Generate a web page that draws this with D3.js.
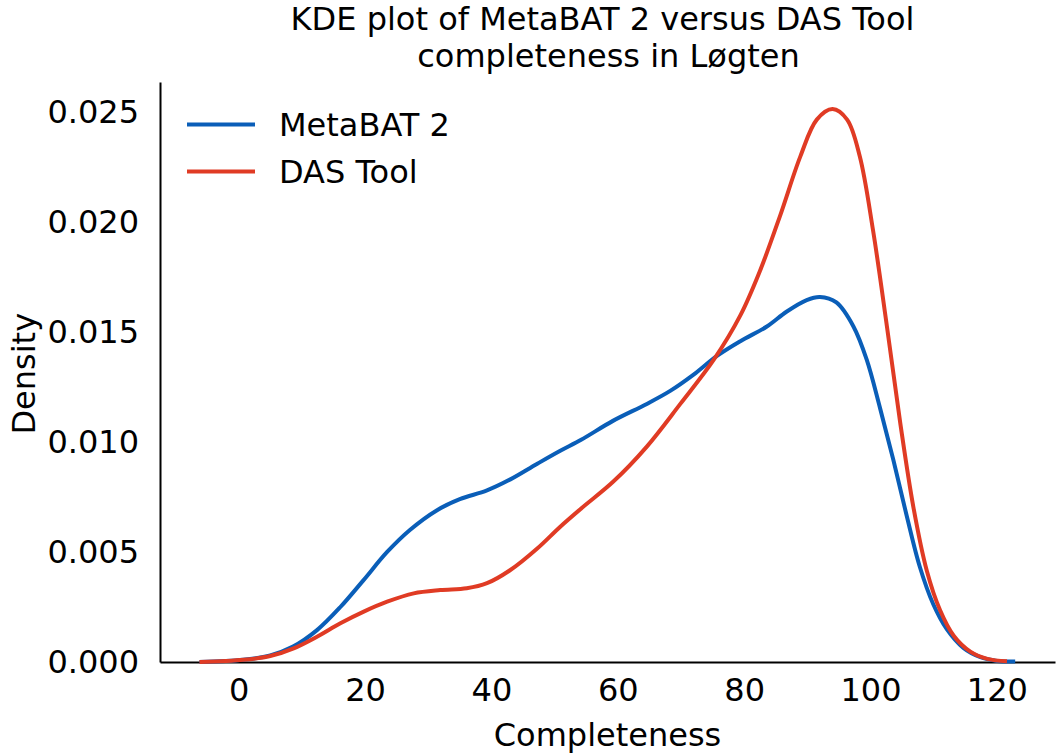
<!DOCTYPE html>
<html>
<head>
<meta charset="utf-8">
<script src="https://cdn.jsdelivr.net/npm/d3@7"></script>
<style>
  body { margin: 0; background: #fff; }
  text { font-family: "DejaVu Sans", sans-serif; fill: #000; }
</style>
</head>
<body>
<div id="chart"></div>
<script>
// KDE curves
var seriesNames = ["MetaBAT 2", "DAS Tool"];
var seriesColors = ["#0a5eb8", "#e03b24"];

var metabatX = [-6.2, 0.7, 5.0, 8.6, 12.4, 16.1, 19.7, 23.5, 27.1, 31.4, 35.0, 39.3, 43.0, 47.2, 50.9, 54.2,
                59.3, 64.6, 68.3, 72.0, 75.7, 79.4, 83.6, 86.7, 89.9, 92.0, 94.6, 97.3, 99.4, 101.5, 103.6,
                105.7, 107.8, 109.9, 112.1, 114.7, 117.3, 120.0, 122.9];
var metabatY = [0.0, 0.0001, 0.0003, 0.0007, 0.00145, 0.0025, 0.0037, 0.0050, 0.0060, 0.0069, 0.0074, 0.0078, 0.0083, 0.0090, 0.0096, 0.0101,
                0.01097, 0.01173, 0.01232, 0.01306, 0.01391, 0.01458, 0.01525, 0.01592, 0.01645, 0.01659, 0.01634, 0.01525, 0.01374, 0.01155, 0.0092,
                0.00668, 0.00433, 0.00265, 0.00148, 0.00064, 0.00023, 0.00005, 0.00002];

var dasX = [-6.2, 0.8, 5.0, 8.7, 12.4, 16.1, 19.8, 23.5, 27.7, 31.9, 36.1, 39.3, 43.0, 47.3, 50.9, 54.3,
            59.3, 64.6, 69.9, 75.2, 79.4, 82.5, 85.7, 88.9, 91.5, 94.0, 96.3, 98.3, 100.4, 102.6, 104.7,
            106.8, 108.9, 111.0, 113.2, 115.8, 118.5, 121.6];
var dasY = [0.0, 0.0001, 0.00027, 0.00062, 0.00115, 0.00176, 0.00229, 0.00274, 0.00312, 0.00327, 0.00335, 0.00358, 0.00418, 0.00517, 0.00615, 0.007,
            0.0082, 0.00979, 0.01173, 0.01374, 0.01575, 0.01777, 0.02029, 0.02298, 0.02465, 0.02513, 0.02465, 0.02298, 0.01962, 0.01525, 0.01088,
            0.00702, 0.00416, 0.00236, 0.00118, 0.00047, 0.00014, 0.00003];

var xTicks = [0, 20, 40, 60, 80, 100, 120];
var yTicks = [0.000, 0.005, 0.010, 0.015, 0.020, 0.025];

var width = 1056, height = 755;
var margin = {top: 82, right: 1, bottom: 93, left: 160};
var fontSize = 32;

var svg = d3.select("#chart")
            .append("svg")
            .attr("width", width)
            .attr("height", height);

var x = d3.scaleLinear()
          .domain([-12.45, 129.2])
          .range([margin.left, width - margin.right]);

var y = d3.scaleLinear()
          .domain([0, 0.02636])
          .range([height - margin.bottom, margin.top]);

//axes, only left and bottom spines, no tick marks
var xAxis = svg.append("g")
               .attr("transform", "translate(0," + (height - margin.bottom) + ")")
               .call(d3.axisBottom(x).tickValues(xTicks).tickSize(0).tickPadding(16).tickFormat(d3.format("d")));

var yAxis = svg.append("g")
               .attr("transform", "translate(" + margin.left + ",0)")
               .call(d3.axisLeft(y).tickValues(yTicks).tickSize(0).tickPadding(21).tickFormat(d3.format(".3f")));

svg.selectAll(".domain")
   .attr("stroke", "#000")
   .attr("stroke-width", 2);

svg.selectAll(".tick text")
   .style("font-family", "DejaVu Sans")
   .style("font-size", fontSize + "px")
   .attr("fill", "#000");

//kde lines
var line = d3.line()
             .x(function(d){ return x(d[0]); })
             .y(function(d){ return y(d[1]); })
             .curve(d3.curveCatmullRom.alpha(0.5));

var curves = [d3.zip(metabatX, metabatY), d3.zip(dasX, dasY)];

svg.selectAll(".kde")
   .data(curves)
   .enter()
   .append("path")
   .attr("class", "kde")
   .attr("d", line)
   .attr("fill", "none")
   .attr("stroke", function(d, i){ return seriesColors[i]; })
   .attr("stroke-width", 4)
   .attr("stroke-linejoin", "round");

//title (first line sits a bit left, as in the original)
var cx = (margin.left + width - margin.right) / 2;
var title = svg.append("text")
               .attr("text-anchor", "middle")
               .style("font-size", fontSize + "px");
title.append("tspan").attr("x", cx - 5).attr("y", 30).text("KDE plot of MetaBAT 2 versus DAS Tool");
title.append("tspan").attr("x", cx + 1).attr("y", 67).text("completeness in Løgten");

//axis labels
svg.append("text")
   .attr("x", cx)
   .attr("y", 746)
   .attr("text-anchor", "middle")
   .style("font-size", fontSize + "px")
   .text("Completeness");

svg.append("text")
   .attr("transform", "translate(35," + y(0.0131) + ") rotate(-90)")
   .attr("text-anchor", "middle")
   .style("font-size", fontSize + "px")
   .text("Density");

//legend
var legend = svg.selectAll(".legend")
                .data(seriesNames)
                .enter()
                .append("g")
                .attr("class", "legend")
                .attr("transform", function(d, i){ return "translate(187," + (124.5 + i * 47) + ")"; });

legend.append("line")
      .attr("x1", 0)
      .attr("x2", 68)
      .attr("stroke", function(d, i){ return seriesColors[i]; })
      .attr("stroke-width", 4);

legend.append("text")
      .attr("x", 92)
      .attr("y", 11.5)
      .style("font-size", fontSize + "px")
      .text(function(d){ return d; });
</script>
</body>
</html>
